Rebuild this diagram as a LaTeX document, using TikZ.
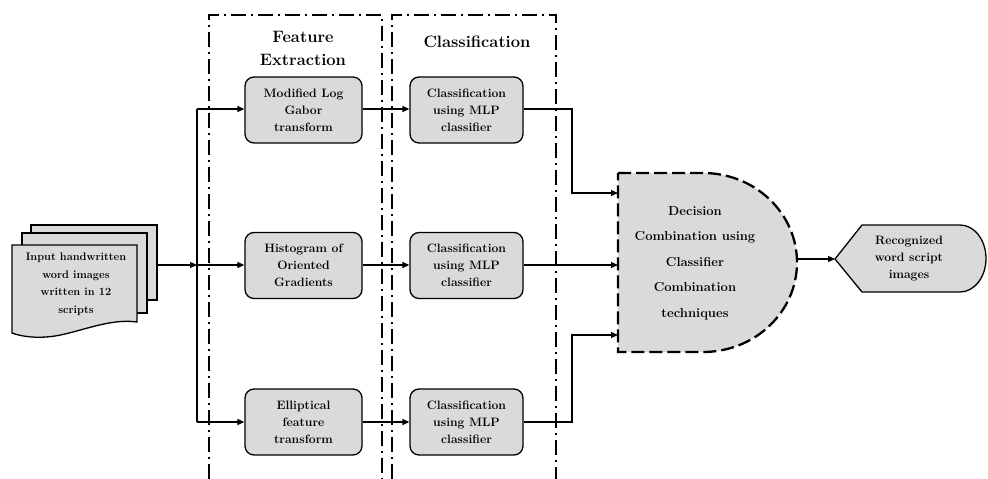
\documentclass[tikz,border=0pt]{standalone}
\usetikzlibrary{arrows.meta}
\definecolor{boxgray}{HTML}{DADADA}
\begin{document}
\begin{tikzpicture}[x=1pt,y=-1pt,
  boxtxt/.style={font=\bfseries\fontsize{12.2}{17}\selectfont, align=center},
  procbox/.style={draw, line width=1.3pt, rounded corners=9pt, fill=boxgray,
    minimum width=117pt, minimum height=66pt, boxtxt},
  clsbox/.style={procbox, minimum width=113pt},
  arr/.style={line width=1.2pt, -{Triangle[length=7pt,width=6pt]}},
  conn/.style={line width=1.2pt},
  ddash/.style={line width=1.4pt, dash pattern=on 15pt off 5pt on 2pt off 5pt},
  pagesty/.style={draw, line width=1.3pt, fill=boxgray}
]
\useasboundingbox (0,0) rectangle (988,479);

% dash-dot stage frames
\draw[ddash] (209,479) -- (209,15) -- (382,15) -- (382,479);
\draw[ddash] (392,479) -- (392,15) -- (556,15) -- (556,479);
\node[font=\bfseries\fontsize{16.5}{23}\selectfont, align=center] (hfe) at (303,48) {Feature\\Extraction};
\node[font=\bfseries\fontsize{16.5}{23}\selectfont] (hcl) at (477,42) {Classification};

% input document stack
\draw[pagesty] (31,225) rectangle (157,300);
\draw[pagesty] (22,233) rectangle (147,313);
\draw[pagesty] (12,245) -- (137,245) -- (137,322)
  .. controls (110,318) and (80,332) .. (55,336)
  .. controls (35,339) and (20,336) .. (12,333) -- cycle;
\node[font=\bfseries\fontsize{11}{17.5}\selectfont, align=center] (inp) at (76,284) {Input handwritten\\word images\\written in 12\\scripts};
\coordinate (inpR) at (157,265);

% junction
\coordinate (jt) at (197,109);
\coordinate (jm) at (197,265);
\coordinate (jb) at (197,422);
\draw[conn] (jt) -- (jb);

% feature boxes
\node[procbox] (f1) at (303.5,110) {Modified Log\\Gabor\\transform};
\node[procbox] (f2) at (303.5,265.5) {Histogram of\\Oriented\\Gradients};
\node[procbox] (f3) at (303.5,422) {Elliptical\\feature\\transform};

% classification boxes
\node[clsbox] (c1) at (466.5,110) {Classification\\using MLP\\classifier};
\node[clsbox] (c2) at (466.5,265.5) {Classification\\using MLP\\classifier};
\node[clsbox] (c3) at (466.5,422) {Classification\\using MLP\\classifier};

% arrows input -> features
\draw[arr] (inpR) -- (jm);
\draw[arr] (jt) -- (f1.west |- jt);
\draw[arr] (jm) -- (f2.west |- jm);
\draw[arr] (jb) -- (f3.west |- jb);

% features -> classifiers
\draw[arr] (f1.east |- jt) -- (c1.west |- jt);
\draw[arr] (f2.east |- jm) -- (c2.west |- jm);
\draw[arr] (f3.east |- jb) -- (c3.west |- jb);

% decision combination shape
\draw[line width=2.3pt, dash pattern=on 13pt off 5pt, fill=boxgray]
  (618,173) -- (703,173) arc[start angle=-90, end angle=90, x radius=94, y radius=89.5]
  -- (618,352) -- cycle;
\node[font=\bfseries\fontsize{13}{25.5}\selectfont, align=center] (dec) at (695,263)
  {Decision\\Combination using\\Classifier\\Combination\\techniques};
\coordinate (d1) at (618,193);
\coordinate (d2) at (618,265);
\coordinate (d3) at (618,335);
\coordinate (dR) at (797,262);

% classifiers -> decision
\draw[arr] (c1.east |- jt) -| (572,193) -- (d1);
\draw[arr] (c2.east |- jm) -- (d2);
\draw[arr] (c3.east |- jb) -| (572,335) -- (d3);

% output shape
\draw[line width=1.3pt, fill=boxgray]
  (835,259) -- (862,225) -- (960,225)
  arc[start angle=-90, end angle=90, x radius=26, y radius=33.5]
  -- (862,292) -- cycle;
\node[boxtxt] (out) at (909,258) {Recognized\\word script\\images};
\coordinate (oL) at (835,259);

\draw[arr] (dR |- oL) -- (oL);
\end{tikzpicture}
\end{document}
